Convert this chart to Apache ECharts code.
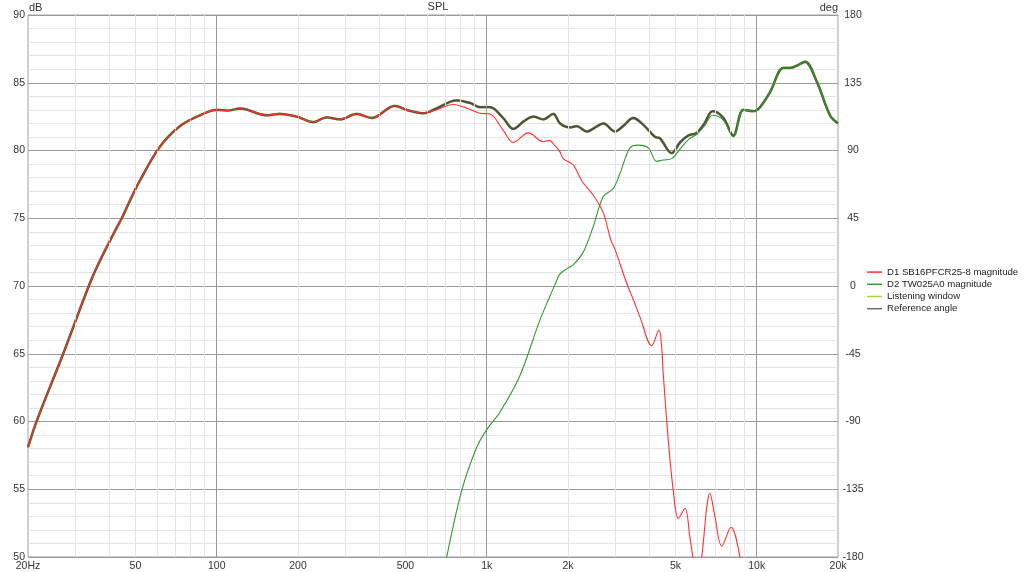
<!DOCTYPE html>
<html>
<head>
<meta charset="utf-8">
<script src="https://cdn.jsdelivr.net/npm/echarts@6/dist/echarts.min.js"></script>
<style>
html,body{margin:0;padding:0;background:#fff;}
#chart{width:1024px;height:572px;}
</style>
</head>
<body>
<div id="chart"></div>
<script>
// ---- data (frequency in Hz, level in dB) ----
const d1Freq = [20,21.6,27,33.9,37,42.6,44.5,47.7,52,61.7,73.1,86.7,100,110,122,153,171,198,228,255,286,330,375,457,505,582,650,752,850,944,1028,1150,1254,1426,1620,1700,1800,1868,1921,2034,2100,2216,2278,2482,2703,2880,2986,3300,3490,3696,4084,4346,4446,4496,4704,4909,5124,5426,5650,5794,6000,6254,6714,7000,7420,8030,8672,9000];
const d1Db   = [58.1,60.1,65.0,70.2,71.9,74.3,75.0,76.3,77.8,80.3,81.8,82.6,83.0,82.95,83.1,82.6,82.7,82.5,82.1,82.45,82.3,82.7,82.4,83.3,83.0,82.75,83.0,83.4,83.1,82.75,82.7,81.5,80.6,81.3,80.65,80.75,80.3,79.9,79.4,79.1,78.9,78.0,77.6,76.7,75.4,73.4,72.7,70.2,69.0,67.7,65.6,66.75,65.5,63.8,58.6,54.9,52.85,53.6,51.5,50.0,47.5,50.0,54.7,53.0,50.8,52.2,50.0,47.5];

const d2Freq = [680,711,808,918,1000,1120,1328,1575,1790,1868,1990,2100,2278,2482,2703,2943,3116,3394,3642,3968,4260,4500,4842,5200,5578,6000,6400,6870,7522,8190,8920,9716,10286,11200,12548,13284,14200,15096,16680,18680,20000];
const d2Db   = [47.5,50.0,54.9,58.1,59.4,60.7,63.4,67.5,70.1,70.9,71.3,71.6,72.5,74.4,76.6,77.2,78.3,80.2,80.4,80.2,79.2,79.3,79.4,80.1,80.8,81.2,81.8,82.6,82.25,81.0,83.0,82.9,83.2,84.3,86.1,86.1,86.3,86.55,85.1,82.6,82.0];

const refFreq = [20,21.6,27,33.9,37,42.6,44.5,47.7,52,61.7,73.1,86.7,100,110,122,153,171,198,228,255,286,330,375,457,505,582,650,774,870,944,1028,1150,1254,1380,1488,1620,1764,1868,2034,2150,2350,2520,2703,2986,3200,3490,3800,4200,4383,4842,5200,5578,5994,6400,6870,7522,8190,8920,9716,10286,11200,12548,13284,14200,15096,16680,18680,20000];
const refDb   = [58.1,60.1,65.0,70.2,71.9,74.3,75.0,76.3,77.8,80.3,81.8,82.6,83.0,82.95,83.1,82.6,82.7,82.5,82.1,82.45,82.3,82.7,82.4,83.3,83.0,82.75,83.1,83.7,83.5,83.2,83.2,82.4,81.6,82.2,82.5,82.3,82.7,82.0,81.7,81.8,81.4,81.7,82.0,81.4,81.8,82.4,81.9,81.0,80.9,79.8,80.6,81.1,81.3,82.0,82.9,82.4,81.1,83.0,82.9,83.2,84.3,86.1,86.1,86.3,86.55,85.1,82.6,82.0];

// listening window follows the reference angle curve
const lwFreq = refFreq;
const lwDb   = refDb;

// ---- axis ticks ----
const xLabelFreq = [20,50,100,200,500,1000,2000,5000,10000,20000];
const xMinorGridFreq = [30,40,50,60,70,80,90,200,300,400,500,600,700,800,900,2000,3000,4000,5000,6000,7000,8000,9000];
const xMajorGridFreq = [100,1000,10000];
const seriesNames = ['D1 SB16PFCR25-8 magnitude','D2 TW025A0 magnitude','Listening window','Reference angle'];

function pairs(f, v){ return f.map((x,i)=>[x, v[i]]); }
function fmtFreq(v){
  v = Math.round(v);
  if (v === 20) return '20Hz';
  if (v >= 1000) return (v/1000) + 'k';
  return String(v);
}

const FONT = 'Liberation Sans';
const chart = echarts.init(document.getElementById('chart'), null, {renderer:'canvas'});
chart.setOption({
  animation: false,
  backgroundColor: '#ffffff',
  textStyle: {fontFamily: FONT},
  title: {
    text: 'SPL', left: 433, top: -4, textAlign: 'center',
    textStyle: {fontSize: 11, fontWeight: 'normal', color: '#333', fontFamily: FONT}
  },
  graphic: [
    {type: 'text', left: 29, top: 2, silent: true,
     style: {text: 'dB', fill: '#333', font: '11px "Liberation Sans"'}},
    {type: 'text', right: 186, top: 2, silent: true,
     style: {text: 'deg', fill: '#333', font: '11px "Liberation Sans"'}}
  ],
  legend: {
    orient: 'vertical', left: 862, top: 261,
    icon: 'rect', itemWidth: 15, itemHeight: 1.5, itemGap: 0,
    data: seriesNames,
    textStyle: {fontSize: 9.6, color: '#222', fontFamily: FONT, lineHeight: 12.2},
    selectedMode: false
  },
  grid: {
    left: 28, right: 186, top: 15, bottom: 15,
    show: true, borderColor: '#a0a0a0', borderWidth: 1, backgroundColor: 'transparent'
  },
  xAxis: {
    type: 'log', logBase: 10, min: 20, max: 20000,
    axisLine: {show: false}, axisTick: {show: false},
    splitLine: {show: false},
    axisLabel: {
      customValues: xLabelFreq,
      formatter: fmtFreq, color: '#333', fontSize: 10.5, margin: 4, fontFamily: FONT
    }
  },
  yAxis: [{
    type: 'value', min: 50, max: 90, interval: 5,
    axisLine: {show: false}, axisTick: {show: false},
    axisLabel: {color: '#333', fontSize: 10.5, margin: 3, fontFamily: FONT},
    splitLine: {show: true, lineStyle: {color: '#9a9a9a', width: 1}},
    minorTick: {show: false, splitNumber: 5},
    minorSplitLine: {show: true, lineStyle: {color: '#e4e4e4', width: 1}}
  }, {
    type: 'value', min: -180, max: 180, interval: 45, position: 'right',
    axisLine: {show: false}, axisTick: {show: false},
    axisLabel: {color: '#333', fontSize: 10.5, margin: 15, align: 'center', fontFamily: FONT},
    splitLine: {show: false}
  }],
  series: [
    {
      name: '__grid', type: 'line', data: [], z: 1, silent: true,
      markLine: {
        silent: true, symbol: ['none','none'], label: {show: false}, animation: false,
        data: xMinorGridFreq.map(v => ({xAxis: v, lineStyle: {color: '#e4e4e4', width: 1, type: 'solid'}}))
          .concat(xMajorGridFreq.map(v => ({xAxis: v, lineStyle: {color: '#9a9a9a', width: 1, type: 'solid'}})))
      }
    },
    {
      name: 'Listening window', type: 'line', data: pairs(lwFreq, lwDb), z: 3,
      symbol: 'none', smooth: 0.35, color: '#a6d63a',
      lineStyle: {color: '#b4d84a', width: 2.7}
    },
    {
      name: 'Reference angle', type: 'line', data: pairs(refFreq, refDb), z: 4,
      symbol: 'none', smooth: 0.35, color: '#6e6e6e',
      lineStyle: {color: '#4e4e4a', width: 2.3}
    },
    {
      name: 'D2 TW025A0 magnitude', type: 'line', data: pairs(d2Freq, d2Db), z: 5,
      symbol: 'none', smooth: 0.35, color: '#2f9a2f',
      lineStyle: {color: '#2f9a2f', width: 1.1}
    },
    {
      name: 'D1 SB16PFCR25-8 magnitude', type: 'line', data: pairs(d1Freq, d1Db), z: 6,
      symbol: 'none', smooth: 0.35, color: '#ff3030',
      lineStyle: {color: '#ff3030', width: 1.1}
    }
  ]
});
</script>
</body>
</html>
